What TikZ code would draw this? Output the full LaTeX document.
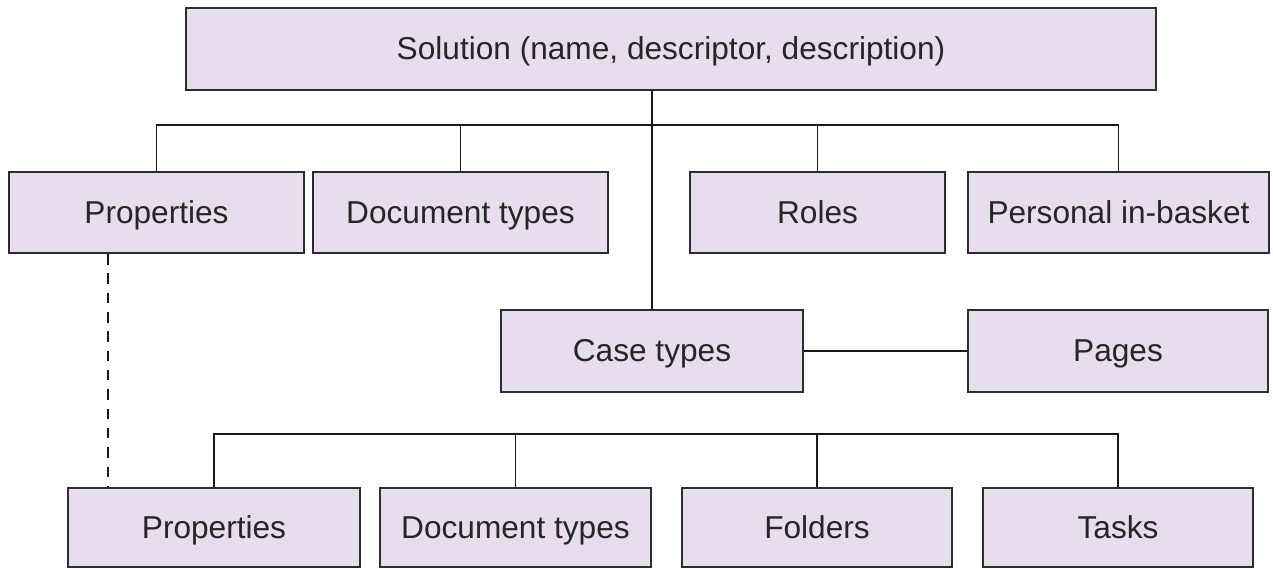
\documentclass[tikz,border=0pt]{standalone}
\usepackage{fontspec}
\setmainfont{Liberation Sans}
\usepackage{xcolor}
\usetikzlibrary{positioning,calc}

\definecolor{boxfill}{RGB}{232,221,237}
\definecolor{boxline}{RGB}{45,45,45}

\begin{document}
\begin{tikzpicture}[
    every node/.style={font=\fontsize{18}{21}\selectfont},
    box/.style={draw=boxline, line width=1.1pt, fill=boxfill, inner sep=0pt,
        text=black!85, text height=16pt, text depth=4pt, minimum height=1.62cm},
    link/.style={draw=black!90, line width=0.8pt},
    dashlink/.style={link, dash pattern=on 6pt off 5pt}
]
\useasboundingbox (0,0) rectangle (25.46,-11.38);

% top
\node[box, minimum width=19.4cm, minimum height=1.64cm] (sol) at (13.42,-0.98)
    {Solution (name, descriptor, description)};

% first row
\node[box, minimum width=5.9cm]  (props1)   at (3.13,-4.25)  {Properties};
\node[box, minimum width=5.9cm]  (doc1)     at (9.21,-4.25)  {Document types};
\node[box, minimum width=5.1cm]  (roles)    at (16.35,-4.25) {Roles};
\node[box, minimum width=6.02cm] (personal) at (22.37,-4.25) {Personal in-basket};

% middle row
\node[box, minimum width=6.04cm, minimum height=1.64cm] (case)  at (13.04,-7.02) {Case types};
\node[box, minimum width=6.0cm,  minimum height=1.64cm] (pages) at (22.36,-7.02) {Pages};

% bottom row
\node[box, minimum width=5.84cm, minimum height=1.58cm] (props2)  at (4.28,-10.55)  {Properties};
\node[box, minimum width=5.42cm, minimum height=1.58cm] (doc2)    at (10.31,-10.55) {Document types};
\node[box, minimum width=5.4cm,  minimum height=1.58cm] (folders) at (16.34,-10.55) {Folders};
\node[box, minimum width=5.4cm,  minimum height=1.58cm] (tasks)   at (22.36,-10.55) {Tasks};

\coordinate (topbus) at (0,-2.5);
\coordinate (lowbus) at (0,-8.68);

\draw[link] (props1.north) |- (topbus -| personal.north) -- (personal.north);
\foreach \n in {doc1,roles}
    \draw[link] (\n.north) -- (\n.north |- topbus);
\draw[link] (sol.south -| case.north) -- (case.north);
\draw[link] (case.east) -- (pages.west);

\draw[link] (props2.north) |- (lowbus -| tasks.north) -- (tasks.north);
\foreach \n in {doc2,folders}
    \draw[link] (\n.north) -- (\n.north |- lowbus);

\draw[dashlink] ([xshift=2cm]props1.south west) -- ([xshift=2cm]props1.south west |- props2.north);
\end{tikzpicture}
\end{document}
